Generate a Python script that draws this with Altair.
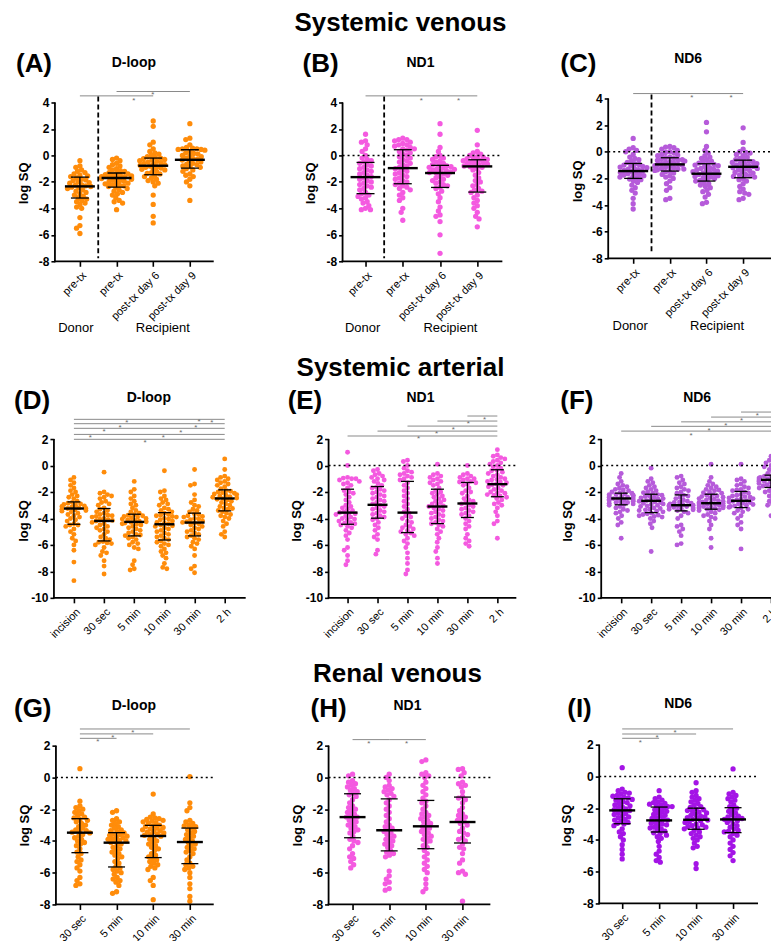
import json, math
import altair as alt
import pandas as pd

FONT = "Liberation Sans"
ORANGE = "#FF8C0A"
PINK = "#F45AE0"
ORCHID = "#B65BDA"
VIOLET = "#A414E6"

CATS_TX = ["pre-tx", "pre-tx", "post-tx day 6", "post-tx day 9"]
CATS_ART = ["incision", "30 sec", "5 min", "10 min", "30 min", "2 h"]
CATS_REN = ["30 sec", "5 min", "10 min", "30 min"]

# ---------------- Systemic venous ----------------
A_vals = [
    [-0.4, -0.8, -0.9, -1.1, -1.2, -1.3, -1.4, -1.5, -1.55, -1.6,
     -1.7, -1.8, -1.85, -1.9, -2.0, -2.05, -2.1, -2.2, -2.25, -2.3, -2.35, -2.4, -2.45, -2.5, -2.6, -2.7, -2.8, -2.9, -3.0, -3.1, -3.2,
     -3.3, -3.4, -3.5, -3.6, -3.7, -3.9, -4.0, -4.7, -5.3, -5.5, -5.9],
    [-0.2, -0.3, -0.4, -0.6, -0.7, -0.8, -0.9, -1.0, -1.1, -1.15, -1.2, -1.3,
     -1.35, -1.4, -1.45, -1.5, -1.5, -1.55, -1.6, -1.6, -1.65, -1.7, -1.7, -1.75, -1.8, -1.85, -1.9, -1.95, -2.0, -2.05, -2.1, -2.15, -2.2, -2.25, -2.3, -2.35,
     -2.4, -2.5, -2.6, -2.7, -2.8, -2.9, -3.0, -3.2, -3.4, -3.5, -3.6, -4.1],
    [2.6, 2.2, 1.0, 0.8, 0.5, 0.3, 0.2, 0.1, 0.0, -0.1, -0.15,
     -0.2, -0.25, -0.3, -0.35, -0.4, -0.45, -0.5, -0.55, -0.6, -0.65, -0.7, -0.75, -0.8, -0.85, -0.9, -0.95, -1.0, -1.05, -1.1, -1.2, -1.3, -1.35, -1.4,
     -1.5, -1.6, -1.7, -1.8, -1.9, -2.0, -2.1, -2.3, -3.0, -3.7, -4.6, -5.1],
    [2.4, 1.3, 1.2, 0.8, 0.6, 0.55, 0.5, 0.5, 0.45, 0.45,
     0.4, 0.3, 0.2, 0.15, 0.1, 0.0, -0.05, -0.1, -0.2, -0.25, -0.3, -0.35, -0.4, -0.5, -0.6, -0.65, -0.7, -0.8, -0.85, -0.9,
     -1.0, -1.1, -1.2, -1.4, -1.5, -1.6, -1.8, -2.0, -2.3, -3.4],
]
A_med = [-2.34, -1.71, -0.78, -0.33]
A_q1 = [-3.22, -2.39, -1.46, -0.96]
A_q3 = [-1.64, -1.33, -0.20, 0.43]
A_sig = [(0, 2, 4.5), (1, 3, 4.83)]
A_stars = [(1.47, 4.28), (1.99, 4.7)]

B_vals = [
    [1.6, 1.1, 1.0, 0.8, 0.5, 0.3, 0.0, -0.2, -0.3, -0.4, -0.5,
     -0.6, -0.7, -0.8, -0.9, -1.0, -1.1, -1.2, -1.3, -1.4, -1.5, -1.6, -1.7, -1.8, -1.9, -2.0, -2.1, -2.2, -2.3, -2.4, -2.5, -2.6, -2.8,
     -2.9, -3.0, -3.1, -3.2, -3.3, -3.5, -3.6, -3.8, -4.0, -4.1, -4.1],
    [1.3, 1.2, 1.2, 1.1, 1.0, 0.9, 0.8, 0.8, 0.7, 0.6, 0.5, 0.5,
     0.4, 0.3, 0.2, 0.1, 0.0, -0.1, -0.2, -0.3, -0.4, -0.5, -0.6, -0.7, -0.8, -0.9, -1.0, -1.1, -1.2, -1.3, -1.4, -1.5, -1.6, -1.7, -1.8, -1.9, -2.0, -2.1,
     -2.2, -2.3, -2.4, -2.5, -2.6, -2.8, -3.0, -3.2, -3.4, -4.0, -4.3, -4.9],
    [2.4, 1.6, 0.6, 0.3, 0.0, -0.1, -0.2, -0.3, -0.4, -0.5, -0.6, -0.7,
     -0.75, -0.8, -0.85, -0.9, -0.95, -1.0, -1.05, -1.1, -1.15, -1.2, -1.25, -1.3, -1.35, -1.4, -1.5, -1.6, -1.7, -1.8, -1.9, -2.0, -2.1, -2.2, -2.3, -2.4,
     -2.5, -2.7, -2.9, -3.2, -3.5, -3.9, -4.2, -4.5, -4.6, -5.0, -6.0, -7.4],
    [1.9, 0.8, 0.3, 0.2, 0.1, 0.0, -0.1, -0.15, -0.2, -0.25, -0.3,
     -0.35, -0.4, -0.45, -0.5, -0.55, -0.6, -0.65, -0.7, -0.75, -0.8, -0.85, -0.9, -1.0, -1.1, -1.3, -1.5, -1.7, -1.9, -2.0, -2.2, -2.3, -2.5, -2.6, -2.7,
     -2.8, -3.0, -3.2, -3.4, -3.6, -3.8, -4.0, -4.3, -4.6, -4.8, -5.4],
]
B_med = [-1.64, -0.96, -1.33, -0.83]
B_q1 = [-2.89, -2.14, -2.42, -2.77]
B_q3 = [-0.53, 0.43, -0.75, -0.33]
B_sig = [(0, 3, 4.5)]
B_stars = [(1.5, 4.3), (2.5, 4.3)]

C_vals = [
    [1.0, 0.3, 0.2, 0.1, 0.0, -0.2, -0.4, -0.5, -0.6, -0.7, -0.8,
     -0.9, -0.95, -1.0, -1.05, -1.1, -1.15, -1.2, -1.25, -1.3, -1.35, -1.4, -1.45, -1.5, -1.55, -1.6, -1.65, -1.7, -1.75, -1.8, -1.85, -1.9, -1.95,
     -2.05, -2.1, -2.2, -2.3, -2.5, -2.7, -2.9, -3.1, -3.5, -3.9, -4.3],
    [0.4, 0.35, 0.3, 0.2, 0.1, 0.0, -0.05, -0.1, -0.2, -0.25, -0.3, -0.4,
     -0.45, -0.5, -0.55, -0.6, -0.6, -0.65, -0.7, -0.75, -0.8, -0.85, -0.9, -0.95, -1.0, -1.0, -1.05, -1.1, -1.15, -1.2, -1.25, -1.3, -1.3, -1.35, -1.4, -1.45,
     -1.5, -1.6, -1.7, -1.8, -1.9, -2.0, -2.2, -2.4, -2.7, -2.9, -3.5, -3.6],
    [2.2, 1.5, 0.4, 0.1, -0.1, -0.3, -0.4, -0.5, -0.6, -0.7, -0.8, -0.85,
     -0.9, -0.95, -1.0, -1.05, -1.1, -1.2, -1.25, -1.3, -1.35, -1.4, -1.45, -1.5, -1.55, -1.6, -1.65, -1.7, -1.75, -1.8, -1.85, -1.9, -1.95, -2.0, -2.1, -2.15,
     -2.2, -2.3, -2.4, -2.5, -2.6, -2.7, -2.9, -3.0, -3.2, -3.4, -3.8, -3.9],
    [1.8, 0.7, 0.2, 0.0, -0.05, -0.1, -0.2, -0.3, -0.4, -0.5, -0.6,
     -0.65, -0.7, -0.75, -0.8, -0.85, -0.9, -0.95, -1.0, -1.05, -1.1, -1.15, -1.2, -1.25, -1.3, -1.35, -1.4, -1.5, -1.55, -1.6, -1.7, -1.75, -1.8, -1.85, -1.9,
     -2.0, -2.1, -2.2, -2.4, -2.6, -2.8, -3.0, -3.1, -3.2, -3.5, -3.6],
]
C_med = [-1.45, -0.95, -1.65, -1.13]
C_q1 = [-2.0, -1.45, -2.2, -1.95]
C_q3 = [-0.88, -0.45, -0.9, -0.63]
C_sig = [(0, 3, 4.37)]
C_stars = [(1.6, 4.2), (2.67, 4.2)]

# ---------------- Systemic arterial ----------------
D_vals = [
    [-0.9, -1.1, -1.3, -1.5, -1.7, -1.9, -2.0, -2.2, -2.3, -2.4, -2.5, -2.7,
     -2.8, -2.85, -2.9, -2.95, -3.0, -3.05, -3.1, -3.15, -3.2, -3.25, -3.25, -3.3, -3.35, -3.4, -3.45, -3.5, -3.6, -3.7, -3.8, -3.9, -4.0, -4.1, -4.2, -4.4,
     -4.5, -4.5, -4.6, -4.8, -5.0, -5.2, -5.5, -5.7, -6.0, -6.4, -7.3, -8.7],
    [-0.5, -2.0, -2.1, -2.2, -2.3, -2.4, -2.5, -2.7, -2.8, -2.9, -3.0, -3.2,
     -3.3, -3.4, -3.5, -3.6, -3.7, -3.75, -3.8, -3.85, -3.9, -4.0, -4.05, -4.1, -4.15, -4.2, -4.3, -4.4, -4.5, -4.6, -4.7, -4.8, -4.9, -5.0, -5.2, -5.4, -5.5, -5.6,
     -5.75, -5.8, -5.85, -5.9, -6.0, -6.2, -6.5, -6.6, -6.8, -7.2, -7.6, -8.2],
    [-1.2, -1.8, -2.0, -2.3, -2.5, -2.7, -2.9, -3.0, -3.2, -3.4, -3.5, -3.6,
     -3.7, -3.75, -3.8, -3.85, -3.9, -3.95, -4.0, -4.05, -4.1, -4.15, -4.2, -4.25, -4.3, -4.35, -4.4, -4.45, -4.5, -4.6, -4.7, -4.8, -4.9, -5.0, -5.1, -5.2, -5.25, -5.3,
     -5.4, -5.5, -5.6, -5.8, -5.9, -6.0, -6.2, -6.3, -7.2, -7.5, -7.8, -7.9],
    [-0.4, -1.9, -2.0, -2.3, -2.5, -2.6, -2.8, -2.9, -3.0, -3.2, -3.3, -3.4, -3.5,
     -3.6, -3.7, -3.75, -3.8, -3.85, -3.9, -4.0, -4.05, -4.1, -4.2, -4.3, -4.35, -4.4, -4.5, -4.55, -4.6, -4.7, -4.8, -4.9, -5.0, -5.1, -5.2, -5.3, -5.4, -5.5, -5.6,
     -5.7, -5.8, -5.9, -6.0, -6.1, -6.3, -6.5, -6.6, -6.8, -7.0, -7.4, -7.7, -7.8],
    [-0.3, -1.4, -1.5, -2.2, -2.6, -2.8, -3.0, -3.1, -3.3, -3.4, -3.5,
     -3.65, -3.7, -3.8, -3.85, -3.9, -4.0, -4.05, -4.1, -4.2, -4.25, -4.3, -4.35, -4.4, -4.5, -4.6, -4.7, -4.8, -4.9, -5.0, -5.1, -5.2, -5.3,
     -5.4, -5.5, -5.6, -5.8, -5.9, -6.1, -6.3, -6.8, -7.6, -7.8, -8.1],
    [0.5, -0.3, -0.8, -0.9, -1.0, -1.1, -1.2, -1.3, -1.4, -1.5, -1.6, -1.75,
     -1.9, -1.95, -2.0, -2.05, -2.1, -2.15, -2.2, -2.25, -2.3, -2.35, -2.4, -2.45, -2.5, -2.55, -2.6, -2.7, -2.8, -2.9, -3.0, -3.1, -3.2, -3.25, -3.3, -3.4,
     -3.5, -3.6, -3.7, -3.8, -3.9, -4.0, -4.2, -4.4, -4.6, -5.0, -5.2, -5.4],
]
D_med = [-3.25, -4.19, -4.26, -4.44, -4.31, -2.49]
D_q1 = [-4.44, -5.70, -5.32, -5.63, -5.32, -3.43]
D_q3 = [-2.75, -3.25, -3.68, -3.56, -3.60, -1.84]
D_sig = [(0, 5, 3.49), (0, 5, 3.16), (0, 5, 2.81), (0, 5, 2.35), (0, 5, 1.98)]
D_stars = [(1.75, 3.39), (4.15, 3.46), (4.57, 3.34), (1.53, 3.01), (4.04, 3.01),
           (1.0, 2.68), (3.54, 2.63), (0.54, 2.2), (2.96, 2.2), (2.36, 1.87)]

E_vals = [
    [1.0, 0.0, -0.9, -0.95, -1.0, -1.0, -1.1, -1.2, -1.3, -1.4, -1.5, -1.7,
     -1.9, -2.0, -2.1, -2.2, -2.4, -2.6, -2.8, -3.0, -3.1, -3.2, -3.3, -3.4, -3.5, -3.55, -3.6, -3.65, -3.7, -3.8, -3.9, -4.0, -4.05, -4.1, -4.2, -4.3, -4.35, -4.4,
     -4.5, -4.6, -4.7, -4.9, -5.1, -5.3, -5.6, -6.2, -6.4, -6.8, -7.2, -7.5],
    [-0.3, -0.4, -0.6, -0.7, -0.8, -0.9, -1.0, -1.1, -1.2, -1.35, -1.5,
     -1.65, -1.7, -1.8, -1.9, -2.0, -2.1, -2.2, -2.3, -2.4, -2.5, -2.6, -2.7, -2.8, -2.9, -3.0, -3.1, -3.2, -3.3, -3.4, -3.5, -3.6, -3.7, -3.8, -3.9,
     -4.0, -4.1, -4.3, -4.5, -4.7, -4.9, -5.2, -5.4, -5.6, -6.4, -6.7],
    [0.4, 0.3, 0.0, -0.2, -0.4, -0.5, -0.6, -0.7, -0.8, -0.9, -1.0, -1.1,
     -1.3, -1.5, -1.7, -1.9, -2.1, -2.3, -2.5, -2.7, -2.9, -3.1, -3.3, -3.5, -3.6, -3.8, -3.9, -4.0, -4.2, -4.3, -4.5, -4.6, -4.7, -4.8, -4.9, -5.0,
     -5.1, -5.2, -5.3, -5.5, -5.7, -5.9, -6.2, -6.6, -7.0, -7.4, -7.9, -8.2],
    [0.1, -0.6, -0.7, -0.8, -0.9, -1.0, -1.1, -1.2, -1.3, -1.4, -1.5, -1.7,
     -1.9, -2.0, -2.1, -2.2, -2.3, -2.4, -2.5, -2.6, -2.7, -2.8, -2.9, -3.0, -3.05, -3.1, -3.2, -3.3, -3.4, -3.5, -3.6, -3.7, -3.8, -3.9, -4.0, -4.1, -4.2, -4.3,
     -4.4, -4.5, -4.6, -4.8, -5.0, -5.2, -5.5, -5.8, -6.2, -6.5, -7.0, -7.4],
    [0.0, -0.6, -0.7, -0.8, -0.9, -1.0, -1.0, -1.1, -1.2, -1.25,
     -1.3, -1.4, -1.5, -1.7, -1.9, -2.0, -2.1, -2.3, -2.5, -2.6, -2.7, -2.8, -2.9, -3.0, -3.1, -3.2, -3.3, -3.4, -3.5, -3.6, -3.7, -3.8,
     -4.0, -4.2, -4.4, -4.6, -4.8, -5.2, -5.5, -5.7, -5.9, -6.1],
    [1.2, 0.8, 0.7, 0.6, 0.5, 0.4, 0.3, 0.2, 0.1, 0.0, -0.1, -0.2,
     -0.35, -0.4, -0.5, -0.6, -0.7, -0.8, -0.9, -1.0, -1.05, -1.1, -1.2, -1.25, -1.3, -1.4, -1.45, -1.5, -1.6, -1.7, -1.8, -1.9, -2.0, -2.05, -2.1, -2.2, -2.25, -2.3,
     -2.4, -2.5, -2.6, -2.8, -2.9, -3.0, -3.2, -3.5, -3.8, -4.2, -4.4, -5.5],
]
E_med = [-3.56, -2.97, -3.56, -3.10, -2.87, -1.41]
E_q1 = [-4.44, -3.98, -5.07, -4.39, -3.93, -2.36]
E_q3 = [-1.79, -1.59, -1.20, -1.79, -1.28, -0.32]
E_sig = [(4, 5, 3.74), (3, 5, 3.36), (2, 5, 2.98), (1, 5, 2.6), (0, 5, 2.23)]
E_stars = [(4.57, 3.59), (4.03, 3.26), (3.53, 2.83), (2.97, 2.5), (2.37, 2.13)]

F_vals = [
    [-0.6, -0.9, -1.2, -1.4, -1.5, -1.6, -1.7, -1.8, -1.85, -1.9, -2.0, -2.05,
     -2.1, -2.15, -2.2, -2.2, -2.25, -2.3, -2.3, -2.35, -2.4, -2.4, -2.45, -2.5, -2.5, -2.55, -2.6, -2.6, -2.65, -2.7, -2.75, -2.8, -2.8, -2.85, -2.9, -2.95,
     -3.0, -3.1, -3.2, -3.3, -3.4, -3.5, -3.6, -3.8, -4.0, -4.3, -4.5, -5.5],
    [-0.2, -1.0, -1.2, -1.3, -1.5, -1.6, -1.7, -1.8, -1.9, -2.0, -2.05, -2.1,
     -2.2, -2.25, -2.3, -2.35, -2.4, -2.45, -2.5, -2.55, -2.6, -2.65, -2.7, -2.75, -2.8, -2.85, -2.9, -2.95, -3.0, -3.05, -3.1, -3.2, -3.25, -3.3, -3.35, -3.4, -3.45, -3.5,
     -3.6, -3.65, -3.7, -3.75, -3.8, -3.85, -3.9, -4.0, -4.2, -4.4, -4.7, -6.5],
    [-0.8, -0.9, -1.1, -1.3, -1.4, -1.6, -1.7, -1.8, -1.9, -2.0, -2.1,
     -2.25, -2.3, -2.4, -2.5, -2.6, -2.7, -2.75, -2.8, -2.85, -2.9, -2.95, -3.0, -3.0, -3.05, -3.1, -3.1, -3.15, -3.2, -3.25, -3.3, -3.35, -3.4,
     -3.5, -3.6, -3.8, -4.0, -4.5, -4.6, -4.8, -5.0, -5.3, -5.9, -6.0],
    [0.1, -0.9, -1.2, -1.4, -1.5, -1.6, -1.7, -1.8, -1.85, -1.9, -2.0, -2.05, -2.1,
     -2.2, -2.25, -2.3, -2.35, -2.4, -2.45, -2.5, -2.55, -2.6, -2.65, -2.7, -2.75, -2.8, -2.8, -2.85, -2.9, -2.9, -2.95, -3.0, -3.0, -3.05, -3.1, -3.1, -3.15, -3.2, -3.2, -3.25, -3.3,
     -3.35, -3.4, -3.5, -3.6, -3.7, -3.8, -3.9, -4.0, -4.2, -4.5, -4.8, -5.5, -6.2],
    [0.1, -1.0, -1.1, -1.2, -1.4, -1.5, -1.6, -1.7, -1.8, -1.85, -1.9,
     -2.0, -2.1, -2.2, -2.25, -2.3, -2.35, -2.4, -2.45, -2.5, -2.55, -2.6, -2.65, -2.7, -2.75, -2.8, -2.85, -2.9, -2.95, -3.0, -3.05, -3.1, -3.15,
     -3.2, -3.3, -3.4, -3.5, -3.6, -3.8, -4.0, -4.3, -4.5, -4.8, -6.3],
    [0.7, 0.4, 0.3, 0.2, 0.1, 0.0, -0.1, -0.2, -0.3, -0.4, -0.5, -0.6,
     -0.75, -0.8, -0.8, -0.85, -0.9, -0.9, -0.95, -1.0, -1.0, -1.05, -1.1, -1.1, -1.15, -1.2, -1.2, -1.25, -1.3, -1.35, -1.4, -1.45, -1.5, -1.55, -1.6, -1.65,
     -1.7, -1.8, -1.9, -2.0, -2.1, -2.3, -2.5, -2.7, -2.9, -3.0, -3.1, -3.8],
]
F_med = [-2.49, -2.67, -3.00, -2.85, -2.67, -1.08]
F_q1 = [-2.97, -3.56, -3.43, -3.30, -3.18, -1.66]
F_q3 = [-2.09, -2.17, -2.22, -2.17, -1.96, -0.73]
F_sig = [(4, 5, 4.04), (3, 5, 3.66), (2, 5, 3.3), (1, 5, 2.96), (0, 5, 2.6)]
F_stars = [(4.54, 3.89), (4.02, 3.52), (3.49, 3.14), (2.93, 2.76), (2.33, 2.38)]

# ---------------- Renal venous ----------------
G_vals = [
    [0.55, -1.5, -1.8, -1.9, -2.0, -2.1, -2.2, -2.3, -2.4, -2.5, -2.55,
     -2.65, -2.7, -2.8, -2.9, -3.0, -3.1, -3.2, -3.3, -3.35, -3.4, -3.45, -3.5, -3.6, -3.7, -3.8, -3.9, -4.0, -4.1, -4.2, -4.3, -4.5, -4.7,
     -4.8, -5.0, -5.2, -5.3, -5.5, -5.7, -5.9, -6.3, -6.5, -6.7, -6.8],
    [-2.1, -2.2, -2.6, -2.7, -2.8, -2.9, -3.0, -3.1, -3.2, -3.3, -3.35, -3.4,
     -3.5, -3.55, -3.6, -3.65, -3.7, -3.75, -3.8, -3.85, -3.9, -3.95, -4.0, -4.05, -4.1, -4.2, -4.3, -4.4, -4.5, -4.6, -4.7, -4.8, -4.9, -5.0, -5.1, -5.3, -5.4, -5.6,
     -5.7, -5.8, -5.9, -6.0, -6.1, -6.3, -6.4, -6.5, -6.6, -6.8, -7.2, -7.3],
    [-1.05, -2.3, -2.5, -2.55, -2.6, -2.65, -2.7, -2.75, -2.8, -2.85, -2.9, -3.0,
     -3.05, -3.1, -3.15, -3.2, -3.25, -3.3, -3.35, -3.4, -3.45, -3.5, -3.55, -3.6, -3.65, -3.7, -3.8, -3.9, -4.0, -4.1, -4.2, -4.3, -4.4, -4.5, -4.6, -4.8, -4.9, -5.0,
     -5.1, -5.2, -5.3, -5.4, -5.5, -5.6, -5.7, -5.8, -6.3, -6.5, -6.8, -7.7],
    [0.05, -1.6, -1.9, -2.1, -2.7, -2.8, -2.9, -3.0, -3.05, -3.1,
     -3.2, -3.3, -3.4, -3.5, -3.6, -3.7, -3.8, -3.9, -4.0, -4.1, -4.2, -4.3, -4.4, -4.5, -4.6, -4.7, -4.8, -5.0, -5.2, -5.4,
     -5.5, -5.6, -5.7, -5.8, -6.0, -6.3, -6.7, -7.0, -7.5, -7.8],
]
G_med = [-3.48, -4.11, -3.69, -4.07]
G_q1 = [-4.74, -5.64, -5.05, -5.43]
G_q3 = [-2.60, -3.48, -3.02, -3.19]
G_sig = [(0, 3, 3.05), (0, 2, 2.74), (0, 1, 2.46)]
G_stars = [(1.44, 2.94), (0.9, 2.63), (0.49, 2.36)]

H_vals = [
    [0.2, 0.1, -0.2, -0.3, -0.4, -0.5, -0.6, -0.7, -0.8, -0.9, -1.0,
     -1.1, -1.2, -1.4, -1.6, -1.8, -1.9, -2.0, -2.1, -2.2, -2.3, -2.4, -2.5, -2.5, -2.6, -2.7, -2.8, -2.9, -3.0, -3.1, -3.2, -3.3, -3.4, -3.5, -3.7,
     -3.9, -4.0, -4.1, -4.3, -4.5, -4.8, -5.0, -5.1, -5.3, -5.5, -5.7],
    [0.2, 0.0, -0.2, -0.5, -0.6, -0.7, -0.8, -0.9, -1.0, -1.1, -1.2,
     -1.4, -1.6, -1.8, -2.0, -2.2, -2.4, -2.6, -2.8, -3.0, -3.1, -3.2, -3.3, -3.4, -3.5, -3.6, -3.7, -3.8, -3.9, -4.0, -4.1, -4.2, -4.3, -4.4, -4.6,
     -4.7, -4.8, -4.9, -5.0, -5.9, -6.2, -6.4, -6.6, -6.7, -7.0, -7.1],
    [1.1, 1.0, 0.3, 0.2, 0.1, 0.0, -0.3, -0.5, -0.7, -0.9, -1.1, -1.3,
     -1.5, -1.6, -1.8, -2.0, -2.2, -2.3, -2.4, -2.5, -2.6, -2.7, -2.8, -2.9, -3.0, -3.1, -3.2, -3.3, -3.4, -3.5, -3.6, -3.7, -3.8, -3.9, -4.0, -4.1, -4.3, -4.4,
     -4.6, -4.8, -5.0, -5.2, -5.4, -5.6, -5.8, -6.0, -6.4, -6.7, -7.0, -7.2],
    [0.55, 0.5, 0.3, 0.1, -0.3, -0.4, -0.5, -0.6, -0.9, -1.2,
     -1.3, -1.4, -1.6, -1.9, -2.1, -2.3, -2.4, -2.5, -2.6, -2.7, -2.8, -2.9, -3.0, -3.2, -3.4, -3.5, -3.6, -3.8, -3.9, -4.0,
     -4.2, -4.4, -4.5, -4.8, -5.2, -5.4, -5.9, -6.0, -6.1, -7.8],
]
H_med = [-2.50, -3.33, -3.08, -2.81]
H_q1 = [-3.80, -4.63, -4.49, -4.13]
H_q3 = [-1.03, -1.35, -1.45, -1.24]
H_sig = [(0, 1, 2.38), (1, 2, 2.38)]
H_stars = [(0.44, 2.21), (1.47, 2.21)]

I_vals = [
    [0.55, -0.8, -0.9, -1.0, -1.05, -1.1, -1.2, -1.25, -1.3, -1.35, -1.4,
     -1.45, -1.5, -1.6, -1.65, -1.7, -1.8, -1.85, -1.9, -2.0, -2.05, -2.1, -2.15, -2.2, -2.3, -2.35, -2.4, -2.5, -2.55, -2.6, -2.7, -2.75, -2.8, -2.9, -2.95,
     -3.0, -3.1, -3.3, -3.5, -3.6, -3.8, -4.0, -4.3, -4.6, -4.9, -5.2],
    [-0.9, -1.3, -1.4, -1.5, -1.6, -1.65, -1.7, -1.75, -1.8, -1.85, -1.9, -1.9,
     -2.0, -2.05, -2.1, -2.2, -2.25, -2.3, -2.4, -2.45, -2.5, -2.6, -2.65, -2.7, -2.75, -2.8, -2.9, -2.95, -3.0, -3.05, -3.1, -3.2, -3.25, -3.3, -3.4, -3.45,
     -3.55, -3.6, -3.7, -3.8, -3.9, -4.1, -4.4, -4.7, -4.9, -5.1, -5.3, -5.4],
    [-0.4, -0.9, -1.0, -1.2, -1.3, -1.4, -1.5, -1.6, -1.7, -1.8, -1.9, -1.95,
     -2.05, -2.1, -2.15, -2.2, -2.25, -2.3, -2.4, -2.45, -2.5, -2.55, -2.6, -2.65, -2.7, -2.75, -2.8, -2.85, -2.9, -3.0, -3.05, -3.1, -3.15, -3.2, -3.25, -3.3,
     -3.4, -3.5, -3.6, -3.7, -3.8, -3.9, -4.0, -4.2, -4.4, -4.5, -5.5, -5.8],
    [0.47, -1.0, -1.1, -1.2, -1.3, -1.4, -1.5, -1.6, -1.8, -1.9,
     -2.0, -2.1, -2.2, -2.3, -2.4, -2.5, -2.55, -2.6, -2.65, -2.7, -2.75, -2.8, -2.9, -3.0, -3.1, -3.2, -3.3, -3.4, -3.45, -3.5,
     -3.6, -3.7, -3.8, -4.0, -4.2, -4.4, -4.6, -4.8, -5.0, -5.3],
]
I_med = [-2.14, -2.77, -2.73, -2.71]
I_q1 = [-2.98, -3.50, -3.33, -3.54]
I_q3 = [-1.41, -1.93, -2.00, -1.97]
I_sig = [(0, 3, 2.99), (0, 2, 2.67), (0, 1, 2.4)]
I_stars = [(1.43, 2.88), (0.94, 2.56), (0.49, 2.25)]


def swarm(vals, ppu, d=4.3, maxw=15.0):
    order = sorted(range(len(vals)), key=lambda k: -vals[k])
    placed = []
    offs = [0.0] * len(vals)
    for k in order:
        y = vals[k] * ppu
        near = [(px, py) for px, py in placed if abs(py - y) < d]
        cands = [0.0]
        for px, py in near:
            dx = math.sqrt(max(d * d - (py - y) ** 2, 0.0))
            cands += [px + dx, px - dx]
        cands.sort(key=lambda c: (abs(c), c))
        chosen = cands[-1]
        for c in cands:
            if all((c - px) ** 2 + (y - py) ** 2 >= d * d - 1e-6 for px, py in near):
                chosen = c
                break
        chosen = max(-maxw, min(maxw, chosen))
        placed.append((chosen, y))
        offs[k] = chosen
    return offs


def txt(text, x, y, size, weight="bold", align="center", angle=0, color="black"):
    return dict(text=text, x=x, y=y, size=size, weight=weight, align=align, angle=angle, color=color)


def panel(p):
    L, W, pad = p["L"], p["W"], p["pad"]
    Rtop, Ytop, Bot = p["Rtop"], p["Ytop"], p["Bot"]
    vtop, vbot = p["vtop"], p["vbot"]
    H = Bot - Rtop
    ppu = (Bot - Ytop) / (vtop - vbot)
    ydom = [vbot, vtop + (Ytop - Rtop) / ppu]
    step = p["step"]
    c0 = p["c0"] - L
    xmin = -c0 / step
    xdom = [xmin, xmin + W / step]
    xsc = alt.Scale(domain=xdom, nice=False, zero=False)
    ysc = alt.Scale(domain=ydom, nice=False, zero=False)
    cats = p["cats"]

    rows = []
    for i, vals in enumerate(p["vals"]):
        offs = swarm(vals, ppu, maxw=p["maxw"])
        for v, o in zip(vals, offs):
            rows.append({"x": i + o / step, "y": v})
    pts = pd.DataFrame(rows)

    yaxis_kw = dict(values=p["yticks"], domain=False, grid=False, tickSize=4, tickWidth=1.6,
                    tickColor="black", labelFont=FONT, labelFontSize=12, labelFontWeight="bold",
                    labelColor="black", labelPadding=2, title=None, labelExpr="'' + datum.value")
    if pad:
        yaxis_kw["offset"] = -pad
    YA = alt.Axis(**yaxis_kw)
    XA = alt.Axis(values=list(range(len(cats))), labelExpr=json.dumps(cats) + "[datum.value]",
                  labelAngle=-45, labelOverlap=False, labelFlush=False, domain=False, grid=False,
                  tickSize=5, tickWidth=1.6, tickColor="black", labelFont=FONT, labelFontSize=11,
                  labelColor="black", labelPadding=3, title=None)

    def X(f):
        return alt.X(f, scale=xsc, axis=XA)

    def Y(f):
        return alt.Y(f, scale=ysc, axis=YA)

    layers = []
    layers.append(alt.Chart(pts).mark_circle(size=p["dot"], opacity=1, color=p["color"]).encode(
        x=X("x:Q"), y=Y("y:Q")))
    sig = pd.DataFrame([{"a": a, "b": b, "lv": lv} for a, b, lv in p["sig"]])
    layers.append(alt.Chart(sig).mark_rule(color="#8a8a8a", strokeWidth=1).encode(
        x=X("a:Q"), x2="b:Q", y=Y("lv:Q")))
    st = pd.DataFrame([{"sx": a, "sy": b, "t": "*"} for a, b in p["stars"]])
    layers.append(alt.Chart(st).mark_text(color="#6a6a6a", fontSize=8, font=FONT, baseline="middle", dy=2).encode(
        x=X("sx:Q"), y=Y("sy:Q"), text="t:N"))
    if p["zero"]:
        layers.append(alt.Chart(pd.DataFrame({"z": [0]})).mark_rule(color="black", strokeWidth=1.5, strokeDash=[2, 3]).encode(
            y=Y("z:Q"), x=alt.value(pad), x2=alt.value(W)))
    if p.get("divider"):
        d1, d2 = p["divider"]
        layers.append(alt.Chart(pd.DataFrame({"dx": [0.5], "d1": [d1], "d2": [d2]})).mark_rule(
            color="black", strokeWidth=1.8, strokeDash=[5, 3]).encode(
            x=X("dx:Q"), y=Y("d1:Q"), y2="d2:Q"))
    stats = pd.DataFrame({"i": list(range(len(cats))), "med": p["med"], "q1": p["q1"], "q3": p["q3"]})
    sb = alt.Chart(stats)
    layers.append(sb.mark_rule(color="black", strokeWidth=1.3).encode(
        x=X("i:Q"), y=Y("q1:Q"), y2="q3:Q"))
    for f in ("q1", "q3"):
        layers.append(sb.mark_tick(orient="horizontal", color="black", size=p["capw"], thickness=1.3, opacity=1).encode(
            x=X("i:Q"), y=Y(f + ":Q")))
    layers.append(sb.mark_tick(orient="horizontal", color="black", size=p["medw"], thickness=2.4, opacity=1).encode(
        x=X("i:Q"), y=Y("med:Q")))
    one = pd.DataFrame({"a": [vbot], "b": [vtop]})
    layers.append(alt.Chart(one).mark_rule(color="black", strokeWidth=1.8).encode(
        x=alt.value(pad), y=Y("a:Q"), y2="b:Q"))
    layers.append(alt.Chart(one).mark_rule(color="black", strokeWidth=1.8).encode(
        y=alt.value(H), x=alt.value(pad - 0.9), x2=alt.value(W)))
    for t in p["texts"]:
        layers.append(alt.Chart(pd.DataFrame({"t": [t["text"]]})).mark_text(
            font=FONT, fontSize=t["size"], fontWeight=t["weight"], align=t["align"], baseline="middle",
            angle=t["angle"], color=t["color"]).encode(
            text="t:N", x=alt.value(t["x"] - L), y=alt.value(t["y"] - Rtop)))
    return alt.layer(*layers).properties(width=W, height=H)


row1 = dict(Rtop=97, vtop=4, vbot=-8, yticks=[-8, -6, -4, -2, 0, 2, 4], dot=28, medw=30, capw=18, maxw=15)
row2 = dict(Rtop=407, Ytop=438, Bot=597, vtop=2, vbot=-10, yticks=[-10, -8, -6, -4, -2, 0, 2], dot=24, medw=20, capw=13, maxw=12,
            zero=True, step=30.0)
row3 = dict(Rtop=744, vtop=2, vbot=-8, yticks=[-8, -6, -4, -2, 0, 2], dot=28, medw=26, capw=17, maxw=15, zero=True)

PA = dict(row1, cats=CATS_TX, vals=A_vals, med=A_med, q1=A_q1, q3=A_q3, sig=A_sig, stars=A_stars, color=ORANGE,
          L=53, W=160, pad=1, c0=79, step=36.7, Ytop=101, Bot=260, zero=False, divider=(4.45, -7.77),
          texts=[txt("(A)", 15, 62, 26, align="left"), txt("D-loop", 133, 61, 14),
                 txt("log SQ", 23, 182, 13, angle=270),
                 txt("Donor", 75, 327, 13, weight="normal"), txt("Recipient", 162, 327, 13, weight="normal")])
PB = dict(row1, cats=CATS_TX, vals=B_vals, med=B_med, q1=B_q1, q3=B_q3, sig=B_sig, stars=B_stars, color=PINK,
          L=328, W=174, pad=14, c0=365, step=37.3, Ytop=101, Bot=260, zero=True, divider=(4.45, -7.77),
          texts=[txt("Systemic venous", 400, 21, 26),
                 txt("(B)", 302, 62, 26, align="left"), txt("ND1", 420, 61, 14),
                 txt("log SQ", 310, 182, 13, angle=270),
                 txt("Donor", 362, 327, 13, weight="normal"), txt("Recipient", 450, 327, 13, weight="normal")])
PC = dict(row1, cats=CATS_TX, vals=C_vals, med=C_med, q1=C_q1, q3=C_q3, sig=C_sig, stars=C_stars, color=ORCHID,
          L=599, W=172, pad=9, c0=633, step=36.7, Ytop=97, Bot=257, zero=True, divider=(4.3, -7.7),
          texts=[txt("(C)", 560, 62, 26, align="left"), txt("ND6", 688, 57, 14),
                 txt("log SQ", 578, 180, 13, angle=270),
                 txt("Donor", 630, 325, 13, weight="normal"), txt("Recipient", 717, 325, 13, weight="normal")])
PD = dict(row2, cats=CATS_ART, vals=D_vals, med=D_med, q1=D_q1, q3=D_q3, sig=D_sig, stars=D_stars, color=ORANGE,
          L=53, W=192, pad=0, c0=73, step=30.2, zero=False,
          texts=[txt("(D)", 13, 400, 26, align="left"), txt("D-loop", 148, 397, 14),
                 txt("log SQ", 23, 520, 13, angle=270)])
PE = dict(row2, cats=CATS_ART, vals=E_vals, med=E_med, q1=E_q1, q3=E_q3, sig=E_sig, stars=E_stars, color=PINK,
          L=328, W=188, pad=0, c0=347,
          texts=[txt("Systemic arterial", 400, 367, 26),
                 txt("(E)", 287, 400, 26, align="left"), txt("ND1", 420, 397, 14),
                 txt("log SQ", 296, 520, 13, angle=270)])
PF = dict(row2, cats=CATS_ART, vals=F_vals, med=F_med, q1=F_q1, q3=F_q3, sig=F_sig, stars=F_stars, color=ORCHID,
          L=599, W=172, pad=2, c0=621,
          texts=[txt("(F)", 560, 400, 26, align="left"), txt("ND6", 697, 397, 14),
                 txt("log SQ", 568, 520, 13, angle=270)])
PG = dict(row3, cats=CATS_REN, vals=G_vals, med=G_med, q1=G_q1, q3=G_q3, sig=G_sig, stars=G_stars, color=ORANGE,
          L=53, W=160, pad=2, c0=79, step=36.7, Ytop=745, Bot=904,
          texts=[txt("(G)", 13, 708, 26, align="left"), txt("D-loop", 133, 705, 14),
                 txt("log SQ", 24, 825, 13, angle=270)])
PH = dict(row3, cats=CATS_REN, vals=H_vals, med=H_med, q1=H_q1, q3=H_q3, sig=H_sig, stars=H_stars, color=PINK,
          L=328, W=162, pad=0, c0=352, step=36.7, Ytop=745, Bot=904,
          texts=[txt("Renal venous", 397, 673, 26),
                 txt("(H)", 310, 708, 26, align="left"), txt("ND1", 407, 705, 14),
                 txt("log SQ", 297, 825, 13, angle=270)])
PI = dict(row3, cats=CATS_REN, vals=I_vals, med=I_med, q1=I_q1, q3=I_q3, sig=I_sig, stars=I_stars, color=VIOLET,
          L=599, W=159, pad=0, c0=622, step=37.0, Ytop=744, Bot=903,
          texts=[txt("(I)", 567, 708, 26, align="left"), txt("ND6", 678, 703, 14),
                 txt("log SQ", 567, 825, 13, angle=270)])

panels = [panel(p) for p in (PA, PB, PC, PD, PE, PF, PG, PH, PI)]

chart = alt.concat(*panels, columns=3, spacing={"row": 147, "column": 83}, bounds="flush", align="each").properties(
    padding={"left": 5, "top": 0, "right": -15, "bottom": -4}
).configure(font=FONT).configure_view(stroke="transparent")

chart.save("out.html", embed_options={"renderer": "svg", "actions": False})
